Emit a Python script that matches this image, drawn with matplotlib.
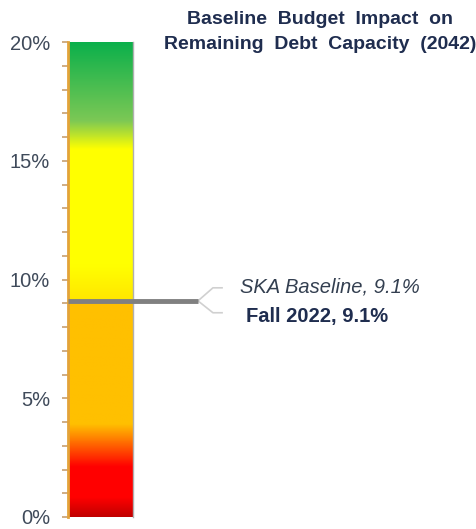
import matplotlib.pyplot as plt
import numpy as np
from matplotlib.colors import LinearSegmentedColormap

plt.rcParams['font.family'] = ['Liberation Sans', 'DejaVu Sans']

# gradient stops of the capacity bar (percent, colour)
stop_pct = [0, 0.8, 2.1, 3.9, 9.1, 9.1, 10.6, 15.5, 16.7, 20]
stop_col = ['#C00000', '#FF0000', '#FF0000', '#FFC000', '#FFC000',
            '#FFE600', '#FFFF00', '#FFFF00', '#7CC855', '#0BB04B']
y_max = 20
baseline_val = 9.1
fall_val = 9.1
labels = ['SKA Baseline, 9.1%', 'Fall 2022, 9.1%']
title = 'Baseline  Budget  Impact  on\nRemaining  Debt  Capacity  (2042)'
navy = '#1F2D4F'

cmap = LinearSegmentedColormap.from_list(
    'cap', list(zip(np.array(stop_pct) / y_max, stop_col)), N=1024)

fig = plt.figure(figsize=(4.77, 5.29), dpi=100)
ax = fig.add_axes([68 / 477, 12 / 529, 65 / 477, 475 / 529])

grad = np.linspace(0, y_max, 1000).reshape(-1, 1)
ax.imshow(grad, cmap=cmap, aspect='auto', origin='lower',
          extent=[0, 1, 0, y_max], vmin=0, vmax=y_max)
ax.set_xlim(0, 1)
ax.set_ylim(0, y_max)

# baseline marker line
ax.plot([0, 2.0], [baseline_val, fall_val], color='#808080', lw=3.5,
        solid_capstyle='butt', clip_on=False, zorder=3)
# leader lines to the two labels
ax.plot([2.0, 2.23, 2.37], [baseline_val, baseline_val + 0.55, baseline_val + 0.55],
        color='#D0D0D0', lw=1.2, clip_on=False)
ax.plot([2.0, 2.23, 2.37], [fall_val, fall_val - 0.5, fall_val - 0.5],
        color='#D0D0D0', lw=1.2, clip_on=False)
ax.text(2.64, baseline_val + 0.6, labels[0], style='italic', fontsize=14.5,
        color='#333F50', va='center', ha='left')
ax.text(2.74, fall_val - 0.65, labels[1], fontweight='bold', fontsize=14.5,
        color=navy, va='center', ha='left')

ax.set_xticks([])
ax.set_yticks(np.arange(0, 21, 5))
ax.set_yticks(np.arange(0, 21, 1), minor=True)
ax.set_yticklabels([f'{v}%' for v in range(0, 21, 5)])
ax.tick_params(axis='y', which='both', direction='out', length=4,
               color='#C8A070', width=1.2, labelsize=14.5, labelcolor='#3F4A5A', pad=9)
for s in ['top', 'bottom']:
    ax.spines[s].set_visible(False)
ax.spines['left'].set_color('#E3A33A')
ax.spines['left'].set_linewidth(2)
ax.spines['right'].set_color('#B0B0B0')
ax.spines['right'].set_linewidth(1)

fig.text(320 / 477, 1 - 32 / 529, title, ha='center', va='center',
         fontsize=14, fontweight='bold', color=navy, linespacing=1.6)

fig.savefig('out.png', dpi=100)
